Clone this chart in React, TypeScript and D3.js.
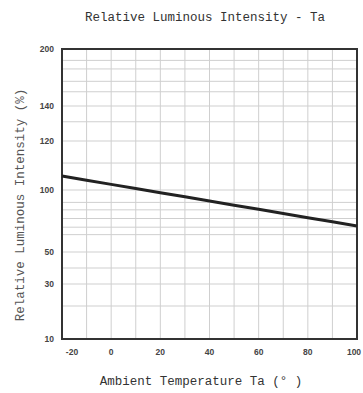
import React from "react";
import * as d3 from "d3";

const title = "Relative Luminous Intensity - Ta";
const xTitle = "Ambient Temperature Ta (° )";
const yTitle = "Relative Luminous Intensity (%)";

const xTicks = [-20, 0, 20, 40, 60, 80, 100];
const xGrid = [-10, 0, 10, 20, 30, 40, 50, 60, 70, 80, 90];
const yTicks = [10, 30, 50, 100, 120, 140, 200];
const yGrid = [22, 30, 40, 50, 64, 70, 77, 84, 90, 100, 111, 120, 131, 140, 155, 166, 179, 188];

const temps = [-20, -10, 0, 10, 20, 30, 40, 50, 60, 70, 80, 90, 100];
const intensity = [105.7, 104.0, 102.3, 100.6, 97.8, 94.5, 91.1, 87.7, 84.4, 81.0, 77.7, 74.4, 71.0];

export default function App() {
  const W = 363, H = 393;
  const left = 62, right = 357, top = 49, bottom = 339;
  const x = d3.scaleLinear().domain([-20, 100]).range([left, right]);
  // the original chart uses an irregular (non-uniform) y axis
  const y = d3.scaleLinear().domain(yTicks).range([339, 284, 252, 190, 141, 106, 49]);
  const line = d3.line<number>().x((_, i) => x(temps[i])).y((d) => y(d));
  const mono = "'Liberation Mono', 'DejaVu Sans Mono', monospace";
  const tickFont = "'Liberation Sans', Arial, sans-serif";
  return (
    <svg width={W} height={H} style={{ position: "absolute", left: 0, top: 0, background: "#fff" }}>
      <text x={205} y={21} textAnchor="middle" fontFamily={mono} fontSize={12.5} fill="#333">{title}</text>
      {xGrid.map((t) => (
        <line key={"xg" + t} x1={x(t)} x2={x(t)} y1={top} y2={bottom} stroke="#cfcfcf" strokeWidth={1} />
      ))}
      {yGrid.map((v) => (
        <line key={"yg" + v} x1={left} x2={right} y1={y(v)} y2={y(v)} stroke="#cfcfcf" strokeWidth={1} />
      ))}
      <rect x={left} y={top} width={right - left} height={bottom - top} fill="none" stroke="#333" strokeWidth={2} />
      <path d={line(intensity) || ""} fill="none" stroke="#222" strokeWidth={3} />
      {yTicks.map((v) => (
        <text key={"yt" + v} x={54} y={y(v) + 3} textAnchor="end" fontFamily={tickFont} fontSize={8.5} fontWeight="bold" fill="#444">{v}</text>
      ))}
      {xTicks.map((t, i) => (
        <text key={"xt" + t} x={i === 0 ? x(t) + 10 : i === xTicks.length - 1 ? x(t) - 3 : x(t)} y={355} textAnchor="middle" fontFamily={tickFont} fontSize={8.5} fontWeight="bold" fill="#444">{t}</text>
      ))}
      <text x={201} y={385} textAnchor="middle" fontFamily={mono} fontSize={12.5} fill="#333">{xTitle}</text>
      <text transform="translate(24,205) rotate(-90)" textAnchor="middle" fontFamily={mono} fontSize={12.5} fill="#555">{yTitle}</text>
    </svg>
  );
}
